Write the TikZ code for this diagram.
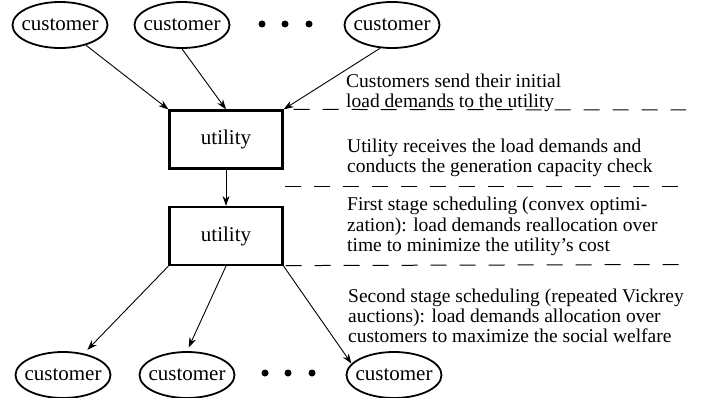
\documentclass[tikz,border=0pt]{standalone}
\usepackage{fontspec}
\setmainfont{Liberation Serif}
\usetikzlibrary{arrows.meta,shapes.geometric}
\begin{document}
\begin{tikzpicture}[x=1pt,y=-1pt,
  cust/.style={draw,ellipse,line width=1.8pt,minimum width=95pt,minimum height=46pt,inner xsep=-6pt,inner ysep=0pt,font=\fontsize{21}{22}\selectfont},
  utilbox/.style={draw,rectangle,line width=2.2pt,minimum width=113pt,minimum height=58pt,inner sep=0pt,font=\fontsize{21}{22}\selectfont},
  arr/.style={-{Stealth[length=10pt,width=7pt]},line width=0.9pt},
  dsh/.style={dash pattern=on 16pt off 13pt,line width=1pt},
  desc/.style={anchor=base west,align=left,inner sep=0pt,font=\fontsize{19.5}{20}\selectfont},
  dot/.style={circle,fill,inner sep=0pt,minimum size=7pt}]
\useasboundingbox (0,0) rectangle (709,398);
% top customers
\node[cust] (c1) at (60,25) {customer};
\node[cust] (c2) at (182,25) {customer};
\node[cust] (c3) at (392,25) {customer};
\node[dot] (t1) at (262,24) {};
\node[dot] (t2) at (285,24) {};
\node[dot] (t3) at (309,24) {};
% utilities
\node[utilbox] (u1) at (226,139.5) {utility};
\node[utilbox] (u2) at (226,236) {utility};
% bottom customers
\node[cust] (c4) at (63,375) {customer};
\node[cust] (c5) at (187,375) {customer};
\node[cust] (c6) at (394,375) {customer};
\node[dot] (b1) at (265,373) {};
\node[dot] (b2) at (288,373) {};
\node[dot] (b3) at (312,373) {};
% arrows
\draw[arr] (c1) -- (u1.north west);
\draw[arr] (c2.south) -- (u1.north);
\draw[arr] (c3.243) -- (u1.north east);
\draw[arr] (u1) -- (u2);
\draw[arr,shorten >=5pt] (u2.south west) -- (c4);
\draw[arr,shorten >=4pt] (u2.south) -- (c5.north);
\draw[arr] (u2.south east) -- (c6.165);
% dashed separators
\coordinate (e1) at (686,110);
\coordinate (s2) at (285,187);
\coordinate (e2) at (686,187);
\coordinate (e3) at (686,264.5);
\draw[dsh] (u1.north east) ++(10,0) coordinate (s1) -- (e1);
\draw[dsh] (s2) -- (e2);
\draw[dsh] (u2.south east) ++(2,-0.5) coordinate (s3) -- (e3);
% descriptions (anchor = baseline of last line)
\node[desc] (d1) at (346,108) {Customers send their initial\\load demands to the utility};
\node[desc] (d2) at (347,173) {Utility receives the load demands and\\conducts the generation capacity check};
\node[desc] (d3) at (347,251) {First stage scheduling (convex optimi-\\zation): load demands reallocation over\\time to minimize the utility's cost};
\node[desc] (d4) at (348,342) {Second stage scheduling (repeated Vickrey\\auctions): load demands allocation over\\customers to maximize the social welfare};
\end{tikzpicture}
\end{document}
